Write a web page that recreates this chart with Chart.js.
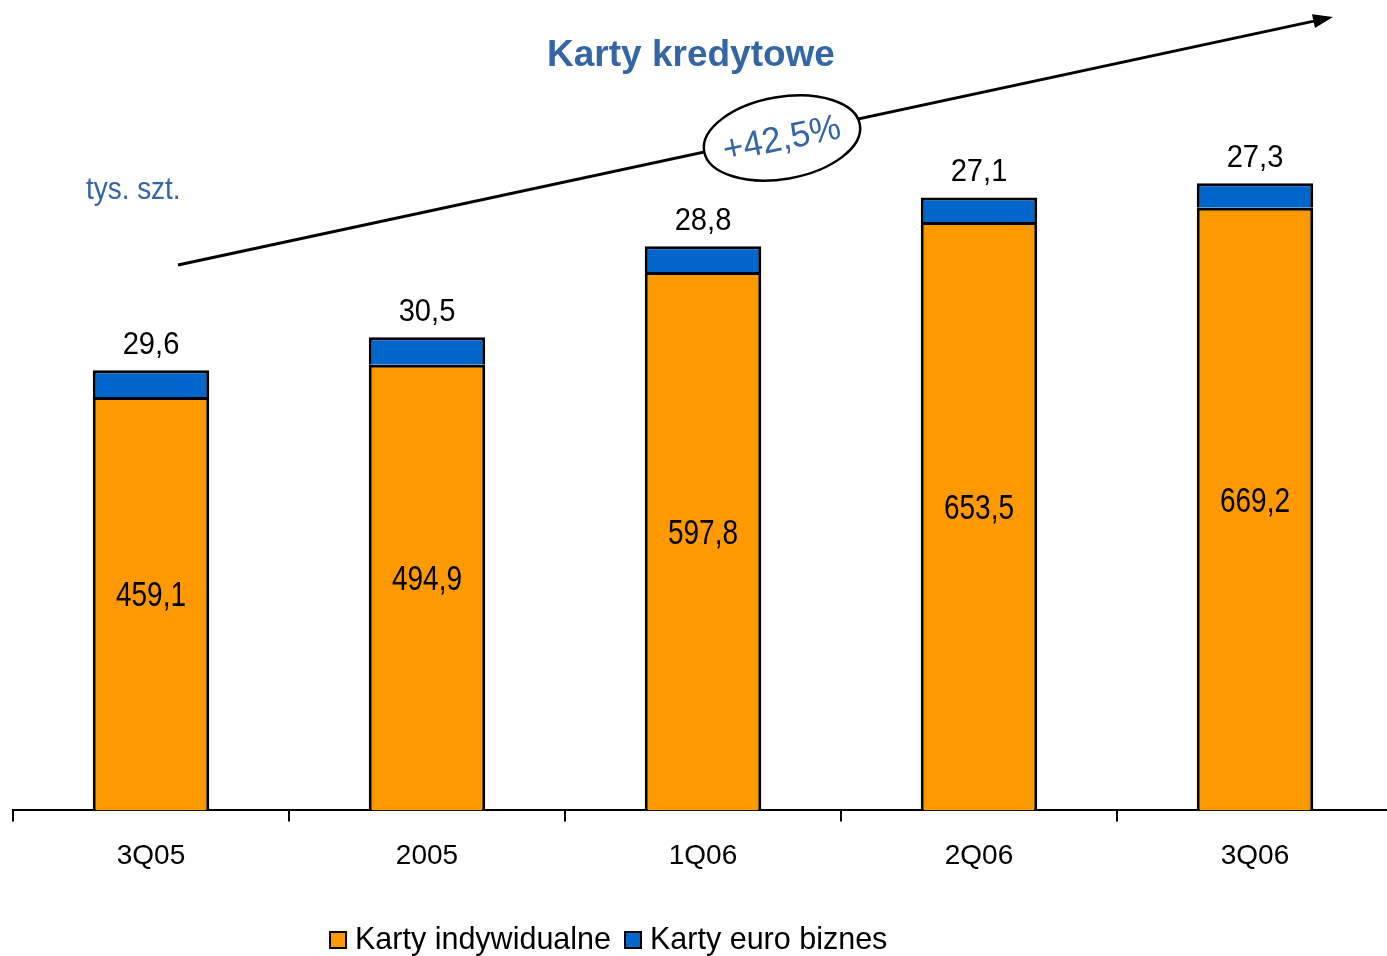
<!DOCTYPE html>
<html>
<head>
<meta charset="utf-8">
<script src="https://cdn.jsdelivr.net/npm/chart.js@4"></script>
<style>
  html, body { margin: 0; padding: 0; background: #fff; overflow: hidden; }
  #wrap { width: 1400px; height: 956px; }
</style>
</head>
<body>
<div id="wrap"><canvas id="c"></canvas></div>
<script>
const categories = ['3Q05', '2005', '1Q06', '2Q06', '3Q06']
const individual = [459.1, 494.9, 597.8, 653.5, 669.2]
const euroBiz = [29.6, 30.5, 28.8, 27.1, 27.3]
const seriesNames = ['Karty indywidualne', 'Karty euro biznes']

const ORANGE = '#FF9900'
const BLUE = '#0066CC'
const TEXT_BLUE = '#3465A4'
const FONT = '"Liberation Sans", Arial, sans-serif'

const fmt = v => v.toFixed(1).replace('.', ',')

// text with a horizontal squeeze, the source font is a bit narrow
function squeezed(ctx, text, x, y, font, sx, align) {
  ctx.save()
  ctx.font = font
  ctx.textAlign = align || 'center'
  ctx.textBaseline = 'middle'
  ctx.translate(x, y)
  ctx.scale(sx, 1)
  ctx.fillText(text, 0, 0)
  ctx.restore()
}

const decorations = {
  id: 'decorations',
  afterDatasetsDraw(chart) {
    const ctx = chart.ctx
    ctx.save()
    ctx.fillStyle = '#000'

    // values inside the orange part
    chart.getDatasetMeta(0).data.forEach((bar, i) => {
      squeezed(ctx, fmt(individual[i]), bar.x, (bar.y + bar.base) / 2 - 7, '35px ' + FONT, 0.8)
    })
    // values above the blue part
    chart.getDatasetMeta(1).data.forEach((bar, i) => {
      squeezed(ctx, fmt(euroBiz[i]), bar.x, bar.y - 25, '31px ' + FONT, 0.94)
    })
    ctx.restore()
  },
  afterDraw(chart) {
    const ctx = chart.ctx
    ctx.save()

    // title
    ctx.fillStyle = TEXT_BLUE
    squeezed(ctx, 'Karty kredytowe', 691, 56, 'bold 37px ' + FONT, 1)

    // unit
    squeezed(ctx, 'tys. szt.', 86, 190, '31px ' + FONT, 0.9, 'left')

    // growth arrow
    const x0 = 178, y0 = 265, x1 = 1333, y1 = 17
    const ang = Math.atan2(y1 - y0, x1 - x0)
    ctx.strokeStyle = '#000'
    ctx.lineWidth = 3
    ctx.beginPath()
    ctx.moveTo(x0, y0)
    ctx.lineTo(x1 - 16 * Math.cos(ang), y1 - 16 * Math.sin(ang))
    ctx.stroke()
    ctx.fillStyle = '#000'
    ctx.beginPath()
    ctx.moveTo(x1, y1)
    ctx.lineTo(x1 - 20 * Math.cos(ang) + 7 * Math.sin(ang), y1 - 20 * Math.sin(ang) - 7 * Math.cos(ang))
    ctx.lineTo(x1 - 20 * Math.cos(ang) - 7 * Math.sin(ang), y1 - 20 * Math.sin(ang) + 7 * Math.cos(ang))
    ctx.closePath()
    ctx.fill()

    // ellipse with growth label
    const ex = 782, ey = 138
    ctx.beginPath()
    ctx.ellipse(ex, ey, 79, 41, -0.17, 0, Math.PI * 2)
    ctx.fillStyle = '#fff'
    ctx.fill()
    ctx.lineWidth = 2.5
    ctx.stroke()
    ctx.save()
    ctx.translate(ex, ey + 2)
    ctx.rotate(-0.2)
    ctx.fillStyle = TEXT_BLUE
    squeezed(ctx, '+42,5%', 0, 0, '36px ' + FONT, 0.97)
    ctx.restore()

    // legend
    ctx.font = '30.5px ' + FONT
    ctx.lineWidth = 2
    let lx = 330
    const ly = 940
    chart.data.datasets.forEach((ds) => {
      ctx.fillStyle = ds.backgroundColor
      ctx.fillRect(lx, ly - 8, 16, 16)
      ctx.strokeStyle = '#000'
      ctx.strokeRect(lx, ly - 8, 16, 16)
      ctx.fillStyle = '#000'
      ctx.textAlign = 'left'
      ctx.textBaseline = 'middle'
      ctx.fillText(ds.label, lx + 25, ly + 1)
      lx += 25 + ctx.measureText(ds.label).width + 14
    })
    ctx.restore()
  }
}

new Chart(document.getElementById('c'), {
  type: 'bar',
  data: {
    labels: categories,
    datasets: [
      { label: seriesNames[0], data: individual, backgroundColor: ORANGE, borderColor: '#000', borderWidth: 3, borderSkipped: 'bottom' },
      { label: seriesNames[1], data: euroBiz, backgroundColor: BLUE, borderColor: '#000', borderWidth: 3, borderSkipped: 'bottom' }
    ]
  },
  options: {
    responsive: true,
    maintainAspectRatio: false,
    animation: false,
    layout: { padding: { left: 13, right: 7, top: 0, bottom: 65 } },
    datasets: { bar: { categoryPercentage: 1, barPercentage: 0.422 } },
    scales: {
      x: {
        stacked: true,
        grid: { display: true, drawOnChartArea: false, drawTicks: true, tickLength: 11, color: '#000', lineWidth: 2 },
        border: { display: true, color: '#000', width: 2 },
        ticks: { color: '#000', font: { family: FONT, size: 28 }, padding: 18 }
      },
      y: {
        stacked: true,
        display: false,
        min: 0,
        max: 900
      }
    },
    plugins: {
      legend: { display: false },
      tooltip: { enabled: false }
    }
  },
  plugins: [decorations]
})
</script>
</body>
</html>
